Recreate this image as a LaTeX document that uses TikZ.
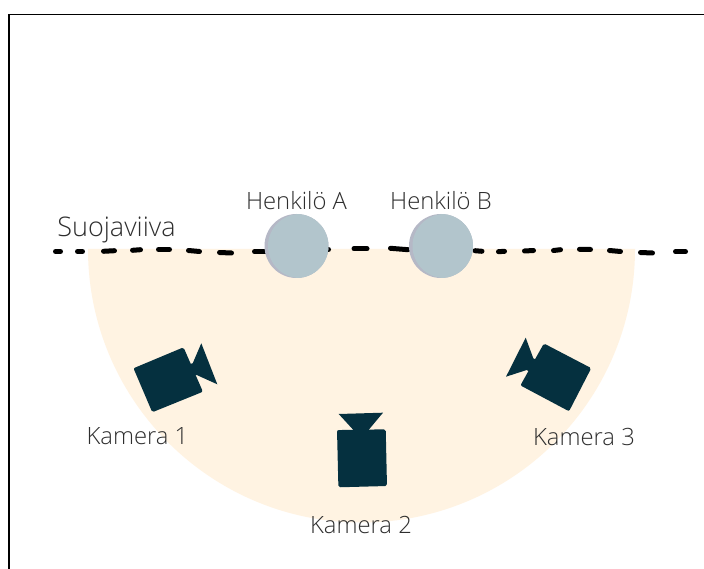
\documentclass[tikz,border=0pt]{standalone}
\usepackage{fontspec}
\setmainfont{Open Sans Light}
\definecolor{zonefill}{HTML}{FFF3E2}
\definecolor{camcol}{HTML}{05303F}
\definecolor{headcol}{HTML}{B2C5CC}
\definecolor{headedge}{HTML}{B5B8C6}
\definecolor{txtcol}{HTML}{2E2E2E}
\tikzset{
  lbl/.style={text=txtcol,font=\fontsize{23.8}{26}\selectfont,inner sep=0pt,anchor=center},
  biglbl/.style={text=txtcol,font=\fontsize{27}{30}\selectfont,inner sep=0pt,anchor=center},
  dashpiece/.style={black,line width=5pt,line cap=round},
  cambody/.style={fill=camcol,draw=camcol,line width=3.5pt,line join=round},
  camlens/.style={fill=camcol},
}
\begin{document}
\begin{tikzpicture}[x=1pt,y=-1pt]
\useasboundingbox (0,0) rectangle (704,569);
\fill[white] (0,0) rectangle (704,569);
% frame
\draw[black,line width=1.6pt] (8.7,569) -- (8.7,14.7) -- (704,14.7);
% zone
\fill[zonefill] (88,249) arc[start angle=180,end angle=360,x radius=273.5,y radius=-273.5] -- cycle;
% dashed line
\foreach \xa/\ya/\xb/\yb in {
 55.5/251.5/60.5/251.5, 77.5/251.5/82.5/251.5, 103.5/251.3/114.5/250.7, 132.5/250.3/140.5/249.7,
 158.5/249.5/169.5/249.5, 188.5/250.5/199.5/251.5, 219.5/252.5/231.5/253, 254.5/251.7/266/251.7,
 327/249.5/328.5/249.5, 354/248.7/367/248.7, 390.5/248.3/408/249.7, 475/250.7/482/251.3,
 498.5/251.7/504.5/251.3, 524.5/251/533.5/250.5, 553.5/250.5/560.5/249.7, 579.5/249.3/590.5/249.5,
 609.5/250.5/620.5/251.5, 640.5/252.5/652.5/253, 675.5/251.7/685.5/251.7}
 \draw[dashpiece] (\xa,\ya) -- (\xb,\yb);
% persons
\foreach \cx in {296.5,441}{
  \fill[headedge] (\cx,246) circle[radius=32];
  \begin{scope}
    \clip (\cx,246) circle[radius=32];
    \fill[headcol] (\cx+3.5,246) circle[radius=32];
  \end{scope}
}
% camera 1
\fill[camlens] (201.3,343.3) -- (217.3,384.3) -- (196.7,375) -- (185,375) -- (185,365) -- (192.7,363.3) -- cycle;
\draw[cambody] (135.8,369.2) -- (182.6,349.6) -- (200.6,390.8) -- (153.2,410) -- cycle;
% camera 2
\fill[camlens] (338.7,414) -- (383,412.7) -- (367.7,431) -- (354.3,431) -- cycle;
\draw[cambody] (338.8,431.8) -- (384,431.1) -- (385.2,484.3) -- (340.1,485.5) -- cycle;
% camera 3
\fill[camlens] (525.7,337.7) -- (533.3,358.3) -- (540,362) -- (535,375) -- (526.7,370) -- (506,376.7) -- cycle;
\draw[cambody] (544.6,345.8) -- (588.9,368.9) -- (568.3,408.9) -- (522.8,384.7) -- cycle;
% labels
\node[biglbl] (suoja) at (116.5,230) {Suojaviiva};
\node[lbl] (henka) at (296.5,200.5) {Henkilö A};
\node[lbl] (henkb) at (441,200.5) {Henkilö B};
\node[lbl] (kam1) at (137.5,436.5) {Kamera 1};
\node[lbl] (kam2) at (361,524.5) {Kamera 2};
\node[lbl] (kam3) at (584,436.5) {Kamera 3};
\end{tikzpicture}
\end{document}
